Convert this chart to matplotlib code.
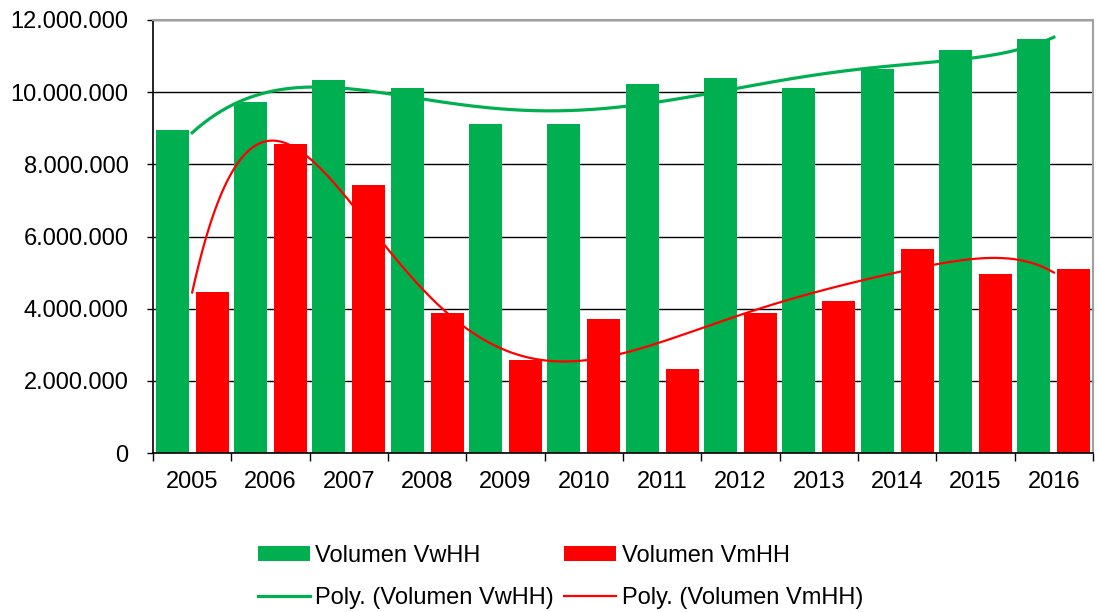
import matplotlib
matplotlib.use("Agg")
import matplotlib.pyplot as plt
import numpy as np
from matplotlib.ticker import FuncFormatter

plt.rcParams['font.family'] = ['Liberation Sans', 'DejaVu Sans']

years = ['2005', '2006', '2007', '2008', '2009', '2010',
         '2011', '2012', '2013', '2014', '2015', '2016']
vw_hh = [8950000, 9730000, 10330000, 10120000, 9130000, 9130000,
         10220000, 10400000, 10120000, 10630000, 11180000, 11460000]
vm_hh = [4450000, 8560000, 7420000, 3880000, 2570000, 3710000,
         2320000, 3880000, 4210000, 5650000, 4970000, 5090000]

green = '#00B050'
red = '#FF0000'
fs = 17
legfs = 17

x = np.arange(1, len(years) + 1)
bw = 0.42
off = 0.255

fig = plt.figure(figsize=(10.99, 6.12), dpi=100)
ax = fig.add_axes([153 / 1099, 1 - 453 / 612, 940 / 1099, 433 / 612])

ax.bar(x - off, vw_hh, width=bw, color=green, label='Volumen VwHH', zorder=2)
ax.bar(x + off, vm_hh, width=bw, color=red, label='Volumen VmHH', zorder=2)

# polynomial trendlines (order 6, like excel)
xs = np.linspace(1, len(years), 300)
pw = np.polyfit(x, vw_hh, 6)
pm = np.polyfit(x, vm_hh, 6)
ax.plot(xs, np.polyval(pw, xs), color=green, lw=2.3, label='Poly. (Volumen VwHH)', zorder=3)
ax.plot(xs, np.polyval(pm, xs), color=red, lw=1.6, label='Poly. (Volumen VmHH)', zorder=3)

ax.set_xlim(0.5, len(years) + 0.5)
ax.set_ylim(0, 12000000)
ax.set_yticks(np.arange(0, 12000001, 2000000))
ax.yaxis.set_major_formatter(FuncFormatter(lambda v, p: f'{int(v):,}'.replace(',', '.')))
ax.yaxis.grid(True, color='black', lw=1.0, zorder=1)
ax.set_axisbelow(True)

ax.set_xticks(np.arange(0.5, len(years) + 1, 1))
ax.set_xticklabels([])
ax.set_xticks(x, labels=years, minor=True)
ax.tick_params(axis='x', which='major', length=6, width=1, direction='out')
ax.tick_params(axis='x', which='minor', length=0, labelsize=fs, pad=13)
ax.tick_params(axis='y', length=4.5, width=1, labelsize=fs, pad=13)

for s in ['left', 'bottom']:
    ax.spines[s].set_color('black')
    ax.spines[s].set_linewidth(1.2)
for s in ['top', 'right']:
    ax.spines[s].set_color('#a0a0a0')
    ax.spines[s].set_linewidth(1.5)

h, l = ax.get_legend_handles_labels()
order = [2, 0, 3, 1]
fig.legend([h[i] for i in order], [l[i] for i in order], ncol=2,
           loc='center', bbox_to_anchor=(0.51, 0.057), frameon=False,
           fontsize=legfs, handlelength=2.2, handleheight=0.62,
           handletextpad=0.25, columnspacing=0.42, labelspacing=0.85)

fig.savefig('out.png', dpi=100)
